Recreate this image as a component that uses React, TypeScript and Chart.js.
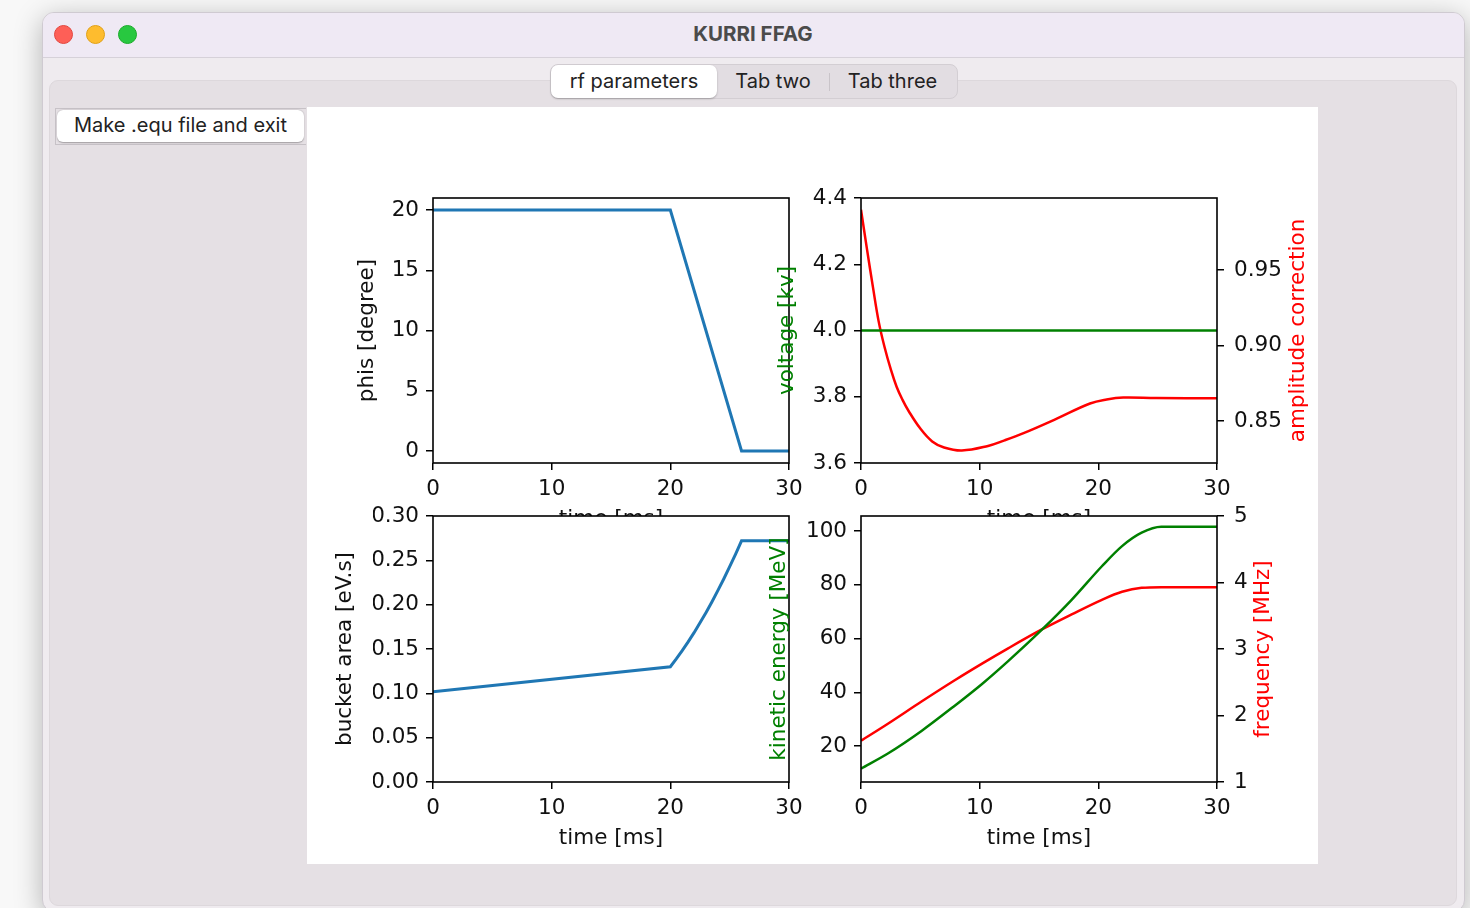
import React, { useEffect, useRef } from "react";
import { Chart, registerables } from "chart.js";

Chart.register(...registerables);

// ---------------- data ----------------
const TIME_RANGE = [0, 30];
const TIME_TICKS = [0, 10, 20, 30];

const PHIS_TIME = [0, 20, 26, 30];
const PHIS_DEGREE = [20, 20, 0, 0];
const PHIS_RANGE = [-1, 21];
const PHIS_TICKS = [0, 5, 10, 15, 20];

const VOLTAGE_TIME = [0, 30];
const VOLTAGE_KV = [4.0, 4.0];
const VOLTAGE_RANGE = [3.6, 4.4];
const VOLTAGE_TICKS = [3.6, 3.8, 4.0, 4.2, 4.4];

const AMP_TIME = [0, 0.5, 1.0, 1.5, 2.0, 2.5, 3.0, 3.5, 4.0, 5.0, 6.0, 7.0, 8.5, 10.7, 12.1, 13.7, 16.5, 19.3, 20.7, 22.1, 24.9, 30];
const AMP_CORRECTION = [0.99, 0.964, 0.939, 0.9155, 0.8985, 0.8845, 0.8727, 0.864, 0.8568, 0.845, 0.8365, 0.8325, 0.8305, 0.8335, 0.8372, 0.842, 0.8516, 0.8616, 0.8643, 0.8656, 0.8652, 0.865];
const AMP_RANGE = [0.8222, 0.9977];
const AMP_TICKS = [0.85, 0.9, 0.95];

const BUCKET_TIME = [0, 20, 20.5, 21, 21.5, 22, 22.5, 23, 23.5, 24, 24.5, 25, 25.5, 26, 30];
const BUCKET_AREA = [0.1018, 0.13, 0.1388, 0.1481, 0.158, 0.1684, 0.1795, 0.191, 0.2031, 0.2158, 0.229, 0.2428, 0.2571, 0.272, 0.272];
const BUCKET_RANGE = [0, 0.3];
const BUCKET_TICKS = [0, 0.05, 0.1, 0.15, 0.2, 0.25, 0.3];

const ENERGY_TIME = [0, 2.3, 5.1, 7.9, 10.2, 12.4, 15.2, 17.75, 20.3, 22, 23.65, 25.3, 30];
const ENERGY_MEV = [11.6, 17.3, 25.6, 35.0, 43.1, 51.6, 63.1, 74.4, 86.9, 94.4, 99.4, 101.6, 101.6];
const ENERGY_RANGE = [6.6, 105.6];
const ENERGY_TICKS = [20, 40, 60, 80, 100];

const FREQ_TIME = [0, 2.3, 5.1, 7.9, 10.2, 12.4, 15.2, 17.75, 20.3, 22, 23.65, 25.3, 30];
const FREQ_MHZ = [1.62, 1.88, 2.21, 2.53, 2.78, 3.01, 3.29, 3.52, 3.74, 3.86, 3.92, 3.93, 3.93];
const FREQ_RANGE = [1, 5];
const FREQ_TICKS = [1, 2, 3, 4, 5];

// ---------------- helpers ----------------
const MPL_FONT = "'DejaVu Sans', 'Liberation Sans', sans-serif";
const FS = 21.5;
const LEFT_W = 60;
const RIGHT_W = 70;
const BOTTOM_H = 40;

const pts = (xs: number[], ys: number[]) => xs.map((x, i) => ({ x, y: ys[i] }));
const fmtInt = (v: number) => String(Math.round(v));
const fmt1 = (v: number) => v.toFixed(1);
const fmt2 = (v: number) => v.toFixed(2);

function makeAxis(position: string, range: number[], ticks: number[], fmt: (v: number) => string) {
  return {
    type: "linear",
    position,
    min: range[0],
    max: range[1],
    afterBuildTicks: (s: any) => {
      s.ticks = ticks.map((v) => ({ value: v }));
    },
    afterFit: (s: any) => {
      if (position === "bottom") s.height = BOTTOM_H;
      else s.width = position === "left" ? LEFT_W : RIGHT_W;
    },
    grid: {
      display: true,
      drawOnChartArea: false,
      drawTicks: true,
      tickLength: 7,
      tickWidth: 1.5,
      tickColor: "#000",
      lineWidth: 1.5,
      color: "#000",
    },
    border: { display: false },
    ticks: {
      color: "#111",
      font: { family: MPL_FONT, size: FS },
      padding: position === "right" ? 10 : 7,
      autoSkip: false,
      maxRotation: 0,
      minRotation: 0,
      callback: (v: any) => fmt(Number(v)),
    },
  };
}

type Box = { x: number; y: number; w: number; h: number };
type Area = { l: number; t: number; r: number; b: number };
type Title = { text: string; color: string; side: "left" | "right" | "bottom"; offset: number };

function SubPlot({ box, area, scales, datasets, titles }: { box: Box; area: Area; scales: any; datasets: any[]; titles: Title[] }) {
  const ref = useRef<HTMLCanvasElement>(null);
  useEffect(() => {
    const hasRight = !!scales.y2;
    const padding = {
      left: area.l - box.x - LEFT_W,
      top: area.t - box.y,
      right: box.x + box.w - area.r - (hasRight ? RIGHT_W : 0),
      bottom: box.y + box.h - area.b - BOTTOM_H,
    };
    const frame = {
      id: "mplFrame",
      beforeDraw(c: any) {
        const a = c.chartArea;
        const ctx = c.ctx;
        ctx.save();
        ctx.fillStyle = "#ffffff";
        ctx.fillRect(a.left, a.top, a.right - a.left, a.bottom - a.top);
        ctx.restore();
      },
      afterDatasetsDraw(c: any) {
        const a = c.chartArea;
        const ctx = c.ctx;
        ctx.save();
        ctx.strokeStyle = "#000";
        ctx.lineWidth = 1.6;
        ctx.strokeRect(a.left, a.top, a.right - a.left, a.bottom - a.top);
        ctx.restore();
      },
      afterDraw(c: any) {
        const a = c.chartArea;
        const ctx = c.ctx;
        titles.forEach((t) => {
          ctx.save();
          ctx.font = `${FS}px ${MPL_FONT}`;
          ctx.fillStyle = t.color;
          ctx.textAlign = "center";
          ctx.textBaseline = "middle";
          if (t.side === "bottom") {
            ctx.fillText(t.text, (a.left + a.right) / 2, a.bottom + t.offset);
          } else {
            const x = t.side === "left" ? a.left - t.offset : a.right + t.offset;
            ctx.translate(x, (a.top + a.bottom) / 2);
            ctx.rotate(-Math.PI / 2);
            ctx.fillText(t.text, 0, 0);
          }
          ctx.restore();
        });
      },
    };
    const chart = new Chart(ref.current as HTMLCanvasElement, {
      type: "line",
      data: { datasets },
      options: {
        animation: false,
        responsive: false,
        devicePixelRatio: 1,
        layout: { padding },
        plugins: { legend: { display: false }, tooltip: { enabled: false } },
        elements: { point: { radius: 0 } },
        scales,
      } as any,
      plugins: [frame],
    } as any);
    return () => chart.destroy();
  }, []);
  return (
    <canvas
      ref={ref}
      width={box.w}
      height={box.h}
      style={{ position: "absolute", left: box.x, top: box.y, width: box.w, height: box.h }}
    />
  );
}

const xAxis = () => makeAxis("bottom", TIME_RANGE, TIME_TICKS, fmtInt);
const TIME_LABEL = "time [ms]";

function Figure() {
  return (
    <>
      <SubPlot
        box={{ x: 320, y: 160, w: 520, h: 400 }}
        area={{ l: 433, t: 198, r: 789, b: 463 }}
        scales={{ x: xAxis(), y: makeAxis("left", PHIS_RANGE, PHIS_TICKS, fmtInt) }}
        datasets={[
          { data: pts(PHIS_TIME, PHIS_DEGREE), borderColor: "#1f77b4", borderWidth: 3, tension: 0, yAxisID: "y" },
        ]}
        titles={[
          { text: "phis [degree]", color: "#111", side: "left", offset: 66 },
          { text: TIME_LABEL, color: "#111", side: "bottom", offset: 56 },
        ]}
      />
      <SubPlot
        box={{ x: 740, y: 160, w: 590, h: 400 }}
        area={{ l: 861, t: 198, r: 1217, b: 463 }}
        scales={{
          x: xAxis(),
          y: makeAxis("left", VOLTAGE_RANGE, VOLTAGE_TICKS, fmt1),
          y2: makeAxis("right", AMP_RANGE, AMP_TICKS, fmt2),
        }}
        datasets={[
          { data: pts(VOLTAGE_TIME, VOLTAGE_KV), borderColor: "#008000", borderWidth: 2.5, tension: 0, yAxisID: "y" },
          { data: pts(AMP_TIME, AMP_CORRECTION), borderColor: "#ff0000", borderWidth: 2.5, tension: 0.4, yAxisID: "y2" },
        ]}
        titles={[
          { text: "voltage [kv]", color: "#008000", side: "left", offset: 74 },
          { text: "amplitude correction", color: "#ff0000", side: "right", offset: 81 },
          { text: TIME_LABEL, color: "#111", side: "bottom", offset: 56 },
        ]}
      />
      <SubPlot
        box={{ x: 320, y: 478, w: 520, h: 392 }}
        area={{ l: 433, t: 516, r: 789, b: 782 }}
        scales={{ x: xAxis(), y: makeAxis("left", BUCKET_RANGE, BUCKET_TICKS, fmt2) }}
        datasets={[
          { data: pts(BUCKET_TIME, BUCKET_AREA), borderColor: "#1f77b4", borderWidth: 3, tension: 0, yAxisID: "y" },
        ]}
        titles={[
          { text: "bucket area [eV.s]", color: "#111", side: "left", offset: 88 },
          { text: TIME_LABEL, color: "#111", side: "bottom", offset: 56 },
        ]}
      />
      <SubPlot
        box={{ x: 740, y: 478, w: 590, h: 392 }}
        area={{ l: 861, t: 516, r: 1217, b: 782 }}
        scales={{
          x: xAxis(),
          y: makeAxis("left", ENERGY_RANGE, ENERGY_TICKS, fmtInt),
          y2: makeAxis("right", FREQ_RANGE, FREQ_TICKS, fmtInt),
        }}
        datasets={[
          { data: pts(ENERGY_TIME, ENERGY_MEV), borderColor: "#008000", borderWidth: 2.5, cubicInterpolationMode: "monotone", yAxisID: "y" },
          { data: pts(FREQ_TIME, FREQ_MHZ), borderColor: "#ff0000", borderWidth: 2.5, cubicInterpolationMode: "monotone", yAxisID: "y2" },
        ]}
        titles={[
          { text: "kinetic energy [MeV]", color: "#008000", side: "left", offset: 82 },
          { text: "frequency [MHz]", color: "#ff0000", side: "right", offset: 46 },
          { text: TIME_LABEL, color: "#111", side: "bottom", offset: 56 },
        ]}
      />
    </>
  );
}

const UI_FONT = "Inter, 'Open Sans', 'Noto Sans', sans-serif";
const abs = (l: number, t: number, w: number, h: number, extra: any = {}) => ({
  position: "absolute" as const,
  left: l,
  top: t,
  width: w,
  height: h,
  boxSizing: "border-box" as const,
  ...extra,
});

export default function App() {
  return (
    <div style={abs(0, 0, 1470, 908, { overflow: "hidden", background: "#f8f8f8", fontFamily: UI_FONT })}>
      {/* window */}
      <div
        style={abs(42, 12, 1423, 900, {
          borderRadius: 12,
          background: "#efebef",
          border: "1px solid #cfcad1",
          boxShadow: "0 6px 28px rgba(0,0,0,0.28)",
          overflow: "hidden",
        })}
      >
        <div style={abs(0, 0, 1423, 45, { background: "#efe9f4", borderBottom: "1px solid #d6d1d9" })} />
      </div>
      {/* traffic lights */}
      <div style={abs(54, 25, 19, 19, { borderRadius: "50%", background: "#fe5f57", border: "1px solid #e2463f" })} />
      <div style={abs(86, 25, 19, 19, { borderRadius: "50%", background: "#febc2e", border: "1px solid #e1a116" })} />
      <div style={abs(118, 25, 19, 19, { borderRadius: "50%", background: "#28c840", border: "1px solid #1aab29" })} />
      {/* title */}
      <div style={abs(500, 20, 506, 28, { textAlign: "center", fontWeight: 700, fontSize: 20.5, lineHeight: "28px", color: "#4b4b4b" })}>
        KURRI FFAG
      </div>
      {/* tab pane */}
      <div style={abs(49, 80, 1408, 826, { background: "#e5e0e4", borderRadius: 9, border: "1px solid #ddd8dc" })} />
      {/* tab bar */}
      <div style={abs(550, 64, 408, 35, { background: "#e2dde2", borderRadius: 8, border: "1px solid #d3ced3" })} />
      <div
        style={abs(551, 65, 166, 33, {
          background: "#ffffff",
          borderRadius: 7,
          boxShadow: "0 1px 2px rgba(0,0,0,0.25)",
          textAlign: "center",
          fontSize: 20,
          lineHeight: "32px",
          color: "#222",
        })}
      >
        rf parameters
      </div>
      <div style={abs(717, 65, 112, 33, { textAlign: "center", fontSize: 20, lineHeight: "32px", color: "#222" })}>Tab two</div>
      <div style={abs(829, 73, 1, 18, { background: "#c9c4c9" })} />
      <div style={abs(830, 65, 125, 33, { textAlign: "center", fontSize: 20, lineHeight: "32px", color: "#222" })}>Tab three</div>
      {/* button */}
      <div style={abs(55, 108, 251, 37, { borderTop: "1px solid #c7c2c7", borderBottom: "1px solid #c7c2c7", borderLeft: "1px solid #c7c2c7" })} />
      <div
        style={abs(57, 110, 247, 32, {
          background: "#ffffff",
          borderRadius: 6,
          boxShadow: "0 0.5px 1.5px rgba(0,0,0,0.3)",
          textAlign: "center",
          fontSize: 20,
          lineHeight: "31px",
          color: "#222",
        })}
      >
        Make .equ file and exit
      </div>
      {/* figure */}
      <div style={abs(307, 107, 1011, 757, { background: "#ffffff" })} />
      <Figure />
    </div>
  );
}
